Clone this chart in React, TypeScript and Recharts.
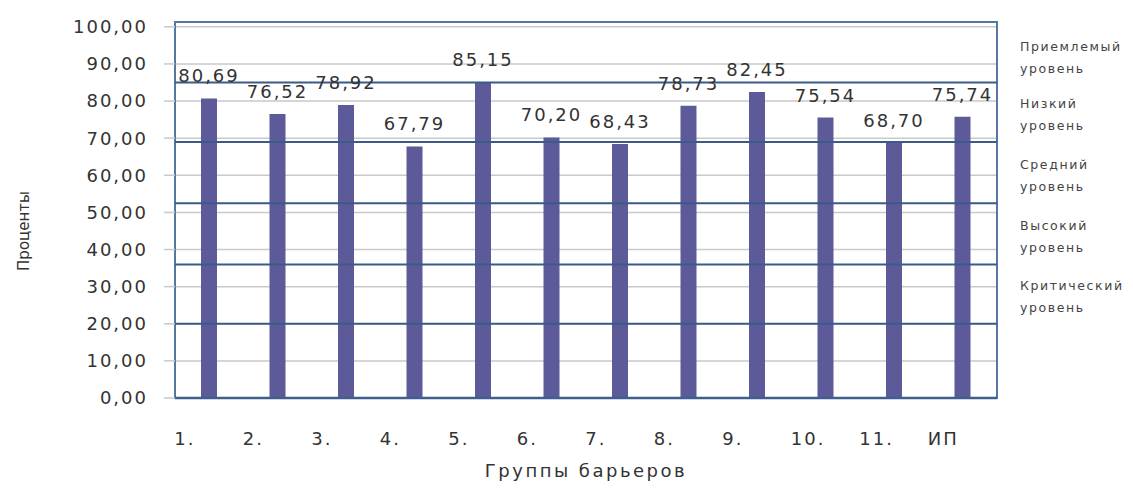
import React from 'react';
import {
  BarChart,
  Bar,
  XAxis,
  YAxis,
  CartesianGrid,
  ReferenceLine,
  ReferenceArea,
  LabelList,
  Label,
} from 'recharts';

const categories = ['1.', '2.', '3.', '4.', '5.', '6.', '7.', '8.', '9.', '10.', '11.', 'ИП'];
const values = [80.69, 76.52, 78.92, 67.79, 85.15, 70.2, 68.43, 78.73, 82.45, 75.54, 68.7, 75.74];
const yTicks = [0, 10, 20, 30, 40, 50, 60, 70, 80, 90, 100];
const levelLines = [20, 36, 52.5, 69, 85];
const bandNames = ['Приемлемый', 'Низкий', 'Средний', 'Высокий', 'Критический'];
const bandTops = [100, 85, 69, 52.5, 36];
const bandBottoms = [85, 69, 52.5, 36, 20];
const bandSuffix = 'уровень';

const data = categories.map((c, i) => ({ name: c, value: values[i] }));

const FONT = '"DejaVu Sans", sans-serif';
const fmt = (v: any) => Number(v).toFixed(2).replace('.', ',');

const XTick = (props: any) => {
  const { x, y, payload } = props;
  return (
    <text
      x={x - 35}
      y={y + 26}
      dy="0.71em"
      textAnchor="start"
      fontFamily={FONT}
      fontSize={18}
      letterSpacing={2}
      fill="#333"
    >
      {payload.value}
    </text>
  );
};

const bandLabel = (name: string) => (props: any) => {
  const vb = props.viewBox || {};
  const x = vb.x + vb.width + 23;
  const cy = vb.y + vb.height / 2 + 2;
  return (
    <text x={x} fontFamily={FONT} fontSize={12.5} letterSpacing={1.6} fill="#444">
      <tspan x={x} y={cy - 6}>{name}</tspan>
      <tspan x={x} y={cy + 16}>{bandSuffix}</tspan>
    </text>
  );
};

const YTitle = (props: any) => {
  const vb = props.viewBox || { x: 0, y: 14, width: 167, height: 376 };
  const cx = 16;
  const cy = vb.y + vb.height / 2 + 21;
  return (
    <text
      x={cx}
      y={cy}
      transform={`rotate(-90 ${cx} ${cy})`}
      textAnchor="middle"
      dominantBaseline="central"
      fontFamily={FONT}
      fontSize={15}
      fill="#333"
    >
      Проценты
    </text>
  );
};

const XTitle = (props: any) => {
  const vb = props.viewBox || { x: 167, y: 390, width: 822, height: 85 };
  const cx = vb.x + vb.width / 2;
  return (
    <text
      x={cx}
      y={vb.y + 72}
      textAnchor="middle"
      dominantBaseline="central"
      fontFamily={FONT}
      fontSize={18}
      letterSpacing={2.5}
      fill="#333"
    >
      Группы барьеров
    </text>
  );
};

export default function App() {
  return (
    <div style={{ width: 1117, height: 475, background: '#fff' }}>
      <BarChart
        width={1117}
        height={475}
        data={data}
        margin={{ top: 14, right: 128, bottom: 0, left: 0 }}
        barCategoryGap={0}
      >
        <CartesianGrid horizontal vertical={false} stroke="#c9c9c9" strokeWidth={1.5} />
        <XAxis
          dataKey="name"
          height={85}
          tick={<XTick />}
          tickLine={false}
          axisLine={{ stroke: '#3f5f8f', strokeWidth: 2.5 }}
          interval={0}
        >
          <Label content={<XTitle />} />
        </XAxis>
        <YAxis
          width={167}
          domain={[0, 101.3]}
          ticks={yTicks}
          interval={0}
          tickFormatter={fmt}
          tickSize={11}
          tickMargin={16}
          tickLine={{ stroke: '#c9c9c9', strokeWidth: 1.5 }}
          axisLine={false}
          tick={{ fontFamily: FONT, fontSize: 18, letterSpacing: 2, fill: '#333' }}
        >
          <Label content={<YTitle />} />
        </YAxis>
        <ReferenceArea
          y1={0}
          y2={101.3}
          fill="none"
          fillOpacity={0}
          stroke="#5676a3"
          strokeWidth={2}
        />
        {bandNames.map((n, i) => (
          <ReferenceArea
            key={n}
            y1={bandBottoms[i]}
            y2={bandTops[i]}
            fill="none"
            fillOpacity={0}
            stroke="none"
            label={bandLabel(n)}
          />
        ))}
        {levelLines.map((v) => (
          <ReferenceLine key={v} y={v} stroke="#3a5a8a" strokeWidth={2} />
        ))}
        <Bar dataKey="value" fill="#5c5a98" barSize={16} isAnimationActive={false}>
          <LabelList
            dataKey="value"
            position="top"
            offset={16}
            formatter={fmt}
            fontFamily={FONT}
            fontSize={18}
            letterSpacing={2}
            fill="#333"
          />
        </Bar>
      </BarChart>
    </div>
  );
}
